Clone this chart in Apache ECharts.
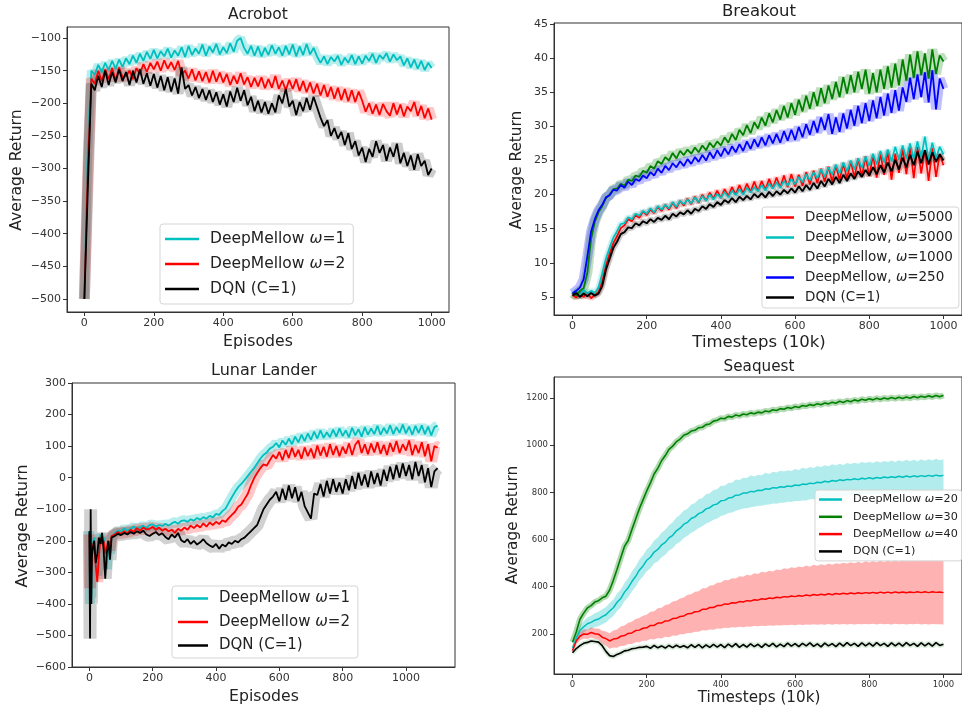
<!DOCTYPE html>
<html><head><meta charset="utf-8">
<script src="https://cdn.jsdelivr.net/npm/echarts@6/dist/echarts.min.js"></script>
<style>html,body{margin:0;padding:0;background:#fff}#c{width:962px;height:707px}</style>
</head><body><div id="c"></div>
<script>
// ---------- Acrobot (episodes 0..1000, every 10) ----------
const acroStep = 10;
const acroW1 = [
-500,-270,-150,-156,-141,-152,-138,-149,-135,-147,
-133,-144,-131,-140,-127,-138,-124,-135,-121,-132,
-118,-131,-120,-128,-116,-130,-119,-127,-114,-129,
-112,-126,-116,-124,-110,-127,-113,-122,-109,-125,
-114,-123,-108,-121,-104,-100,-115,-124,-112,-127,
-113,-128,-115,-126,-111,-124,-114,-127,-112,-125,
-110,-128,-113,-126,-109,-125,-115,-128,-138,-128,
-140,-129,-136,-127,-141,-130,-138,-126,-140,-128,
-139,-127,-135,-124,-138,-126,-132,-123,-136,-125,
-134,-128,-142,-131,-145,-133,-147,-135,-149,-138,
-146];
const acroW2 = [
-500,-300,-162,-170,-150,-166,-148,-163,-146,-165,
-145,-160,-158,-150,-163,-146,-155,-140,-152,-138,
-148,-136,-150,-134,-147,-137,-149,-135,-156,-150,
-162,-148,-165,-151,-166,-152,-168,-150,-167,-153,
-168,-155,-172,-158,-170,-154,-171,-160,-175,-161,
-174,-160,-177,-163,-176,-158,-178,-165,-180,-164,
-178,-163,-181,-166,-183,-168,-185,-170,-188,-172,
-190,-175,-193,-176,-195,-178,-197,-180,-198,-182,
-196,-213,-200,-216,-202,-218,-201,-212,-219,-200,
-217,-202,-220,-205,-212,-198,-219,-204,-223,-208,
-225];
const acroDqn = [
-500,-330,-170,-180,-158,-175,-150,-172,-152,-168,
-148,-166,-152,-172,-150,-168,-148,-170,-154,-173,
-155,-176,-158,-180,-160,-182,-162,-185,-145,-178,
-172,-188,-175,-192,-178,-195,-180,-198,-183,-202,
-186,-205,-182,-198,-176,-196,-180,-203,-190,-212,
-196,-214,-198,-216,-200,-214,-188,-200,-178,-205,
-196,-218,-198,-212,-192,-210,-190,-206,-222,-235,
-226,-250,-238,-254,-244,-264,-246,-270,-258,-280,
-268,-290,-270,-282,-258,-276,-264,-288,-268,-282,
-262,-292,-276,-296,-280,-302,-278,-296,-288,-310,
-300];

// ---------- Breakout (timesteps 0..1000, every 10) ----------
const brkStep = 10;
const brk5000 = [
5.3,4.9,5.5,5.0,5.6,4.8,5.3,5.7,7.2,9.6,
11.3,12.9,13.9,15.1,15.5,16.4,16.1,17.0,16.6,17.5,
17.0,17.8,17.3,18.2,17.6,18.5,17.8,18.8,18.0,19.1,
18.4,19.4,18.6,19.7,18.8,20.0,19.1,20.3,19.4,20.6,
19.5,20.8,19.8,21.1,20.0,21.4,20.2,21.6,20.4,21.9,
20.5,22.0,20.7,22.3,20.9,22.5,21.0,22.8,21.1,23.0,
21.2,22.9,21.3,23.3,21.5,23.5,21.7,23.8,21.9,24.1,
21.9,24.3,22.1,24.6,22.3,24.9,22.5,25.3,22.6,25.6,
22.7,25.8,22.5,26.1,22.9,26.4,22.2,26.0,23.2,26.7,
23.0,26.9,22.4,27.0,23.1,26.5,22.0,26.8,22.6,25.9,
24.3];
const brk3000 = [
5.4,5.9,5.3,6.0,5.5,5.9,5.6,6.4,8.4,10.6,
12.2,13.7,14.6,15.7,15.8,16.7,16.4,17.2,16.9,17.6,
17.2,18.0,17.4,18.3,17.8,18.5,18.0,18.9,18.2,19.1,
18.6,19.3,18.7,19.6,18.9,19.8,19.1,20.0,19.3,20.1,
19.5,20.4,19.6,20.6,19.9,20.8,20.0,21.0,20.3,21.1,
20.5,21.4,20.6,21.6,20.9,21.8,21.0,22.0,21.3,22.3,
21.5,22.6,21.8,23.0,22.1,23.3,22.4,23.7,22.6,24.0,
22.9,24.4,23.1,24.7,23.4,25.0,23.7,25.3,23.9,25.6,
24.2,26.0,24.4,26.4,24.7,26.6,24.9,27.0,25.1,27.2,
25.3,27.5,25.2,27.8,25.5,28.5,25.0,27.6,25.3,27.0,
25.9];
const brk1000 = [
5.6,5.2,5.9,6.3,8.6,13.5,16.0,17.4,18.3,19.5,
20.0,20.8,20.9,21.6,21.3,22.2,22.0,22.8,22.6,23.5,
23.2,24.2,23.8,24.9,24.5,25.5,25.0,26.1,25.3,26.4,
25.8,26.6,26.0,26.9,26.2,27.2,26.5,27.6,26.9,27.8,
27.2,28.4,27.6,28.9,28.0,29.5,28.7,30.2,29.0,30.6,
29.7,31.3,30.1,31.9,30.6,32.4,31.0,33.0,31.3,33.4,
31.7,33.9,32.2,34.5,32.6,35.0,33.0,35.6,33.4,36.0,
34.0,36.5,34.3,37.2,34.8,37.5,35.0,38.0,35.5,38.3,
34.8,37.8,35.0,38.3,35.5,38.8,35.7,39.2,36.0,39.8,
36.7,40.5,37.1,41.0,37.5,40.7,37.0,41.3,37.7,40.4,
39.5];
const brk250 = [
5.5,5.9,6.4,7.6,11.0,14.6,16.4,17.7,18.5,19.6,
19.9,20.7,20.6,21.4,21.0,21.9,21.4,22.3,22.0,22.8,
22.4,23.3,22.8,23.8,23.2,24.2,23.6,24.6,24.0,24.9,
24.2,25.2,24.5,25.5,24.8,25.8,25.0,26.2,25.3,26.5,
25.6,26.8,25.9,27.1,26.2,27.4,26.4,27.8,26.7,28.1,
27.0,28.4,27.2,28.7,27.5,28.9,27.6,29.3,27.9,29.5,
28.0,29.9,28.4,30.3,28.8,30.8,29.1,31.3,29.5,31.8,
28.9,31.3,29.2,31.9,29.7,32.4,30.1,33.0,30.5,33.4,
30.8,33.8,31.2,34.3,31.6,34.8,32.0,35.3,32.3,35.7,
33.6,37.1,34.0,37.6,34.3,37.9,33.5,38.2,32.5,37.0,
35.5];
const brkDqn = [
5.2,5.6,5.0,5.5,5.1,5.6,5.2,5.5,6.6,9.0,
10.6,12.2,13.1,14.2,14.5,15.2,15.1,15.8,15.5,16.1,
15.8,16.4,16.0,16.6,16.3,16.9,16.4,17.2,16.8,17.4,
17.1,17.7,17.2,17.9,17.6,18.3,17.9,18.6,18.2,18.9,
18.5,19.2,18.8,19.5,18.9,19.7,19.2,19.8,19.3,20.1,
19.6,20.2,19.6,20.4,19.8,20.5,20.0,20.7,20.2,20.9,
20.3,21.2,20.5,21.4,20.7,21.7,20.9,22.0,21.2,22.3,
21.5,22.6,21.7,22.9,22.0,23.1,22.3,23.4,22.6,23.6,
22.8,24.0,23.0,24.3,23.2,24.7,23.4,25.1,23.7,25.4,
24.0,25.8,24.3,26.3,24.6,26.5,24.4,26.2,24.8,25.9,
25.0];

// ---------- Lunar Lander ----------
const llEarlyX = [0,2,4,6,8,10,15,20,25,30,35,40,45,50,55,60,65,70,80,90,100];
const llLateStart = 110, llLateEnd = 1100, llLateStep = 10;
const llW1 = [
-170,-400,-250,-380,-220,-210,-190,-260,-310,-220,-180,-200,-190,-230,-290,-210,-240,-190,-175,-168,-172,
-160,-168,-162,-155,-163,-158,-152,-160,-150,-148,
-155,-150,-153,-146,-152,-145,-140,-146,-137,-135,
-140,-132,-136,-128,-133,-125,-130,-121,-126,-115,
-118,-106,-98,-80,-62,-45,-30,-20,-8,5,
18,30,45,60,72,80,92,98,110,96,
118,104,124,106,130,112,136,116,140,120,
146,124,150,126,144,128,152,130,156,132,
150,128,158,134,154,130,160,136,156,138,
164,136,158,140,166,138,160,142,168,140,
162,136,164,142,166,138,162,134,160,165];
const llW2 = [
-180,-350,-230,-300,-250,-220,-200,-280,-330,-250,-190,-210,-200,-240,-220,-200,-230,-185,-180,-172,-178,
-170,-176,-165,-172,-160,-168,-158,-164,-162,-156,
-165,-158,-168,-162,-170,-165,-175,-162,-168,-158,
-165,-152,-160,-150,-158,-145,-155,-142,-150,-140,
-147,-135,-140,-128,-118,-108,-92,-85,-68,-52,
-25,-2,15,30,42,38,55,72,60,82,
55,88,62,95,66,88,60,96,68,92,
62,102,70,98,66,106,72,100,68,98,
76,108,72,104,118,78,106,74,108,80,
112,76,104,72,110,82,116,78,106,86,
118,72,104,78,112,68,106,52,100,95];
const llDqn = [
-170,-510,-100,-400,-250,-230,-200,-270,-240,-190,-210,-175,-230,-320,-240,-200,-260,-190,-185,-178,-182,
-175,-180,-172,-178,-170,-175,-168,-180,-185,-178,
-172,-182,-176,-188,-195,-180,-190,-175,-198,-205,
-195,-210,-200,-212,-205,-195,-208,-215,-220,-210,
-225,-212,-218,-205,-210,-200,-205,-195,-190,-180,
-170,-160,-150,-125,-100,-85,-70,-60,-45,-75,
-35,-70,-25,-65,-30,-75,-45,-90,-110,-130,
-50,-55,-20,-60,-10,-50,-5,-45,-15,-50,
-5,-40,5,-35,15,-25,10,-30,20,-20,
15,-25,25,-10,35,-5,40,0,45,5,
40,-5,50,5,40,-15,30,-30,20,30];

// ---------- Seaquest (timesteps 0..1000, every 10) ----------
const sqStep = 10;
const sqW20 = [
140,182,214,230,243,249,258,263,273,281,
297,311,334,350,377,396,422,443,470,488,
512,525,547,558,577,588,607,618,637,648,
665,673,689,696,710,716,730,735,747,751,
764,766,776,778,788,789,797,797,804,803,
809,808,815,813,820,818,824,822,827,825,
831,829,835,833,839,837,843,841,847,844,
850,847,853,850,855,853,858,854,860,857,
862,858,863,860,865,862,866,863,868,864,
869,865,870,866,871,867,872,868,873,869,
872];
const sqW20Spread = [
12,18,22,25,27,28,30,31,32,33,
34,35,37,38,39,41,42,43,44,45,
46,48,49,51,52,53,54,55,56,57,
58,57,60,59,61,60,62,61,63,62,
64,62,64,63,66,63,65,64,67,64,
66,65,68,65,67,66,68,66,67,66,
68,66,69,67,68,66,69,67,68,67,
69,67,68,66,69,67,68,67,69,67,
68,66,69,67,68,67,69,66,68,67,
69,67,68,66,69,67,68,67,69,67,
68];
const sqW30 = [
165,208,262,288,310,320,335,341,353,360,
386,427,474,523,571,596,642,686,730,768,
806,840,878,903,934,956,982,996,1015,1026,
1042,1048,1060,1063,1074,1076,1087,1090,1102,1106,
1114,1112,1122,1119,1128,1124,1132,1129,1137,1133,
1140,1137,1145,1142,1150,1147,1155,1152,1160,1156,
1164,1160,1168,1165,1172,1168,1176,1171,1179,1175,
1182,1178,1186,1181,1189,1184,1192,1187,1195,1190,
1197,1192,1199,1194,1200,1196,1202,1197,1203,1198,
1204,1199,1206,1201,1207,1203,1209,1204,1211,1205,
1212];
const sqW40 = [
130,170,190,200,198,206,201,199,186,180,
170,178,180,190,193,202,204,214,216,224,
226,236,236,246,246,255,256,265,266,274,
276,285,286,294,295,304,304,312,312,320,
320,327,326,332,331,337,335,341,339,345,
343,349,347,352,350,355,353,358,356,361,
358,363,360,365,362,367,364,368,365,370,
366,371,368,372,369,373,370,374,371,375,
372,376,372,377,373,377,373,378,374,378,
374,378,375,379,375,379,375,379,376,378,
375];
const sqW40Spread = [
12,15,18,20,20,21,22,24,27,30,
33,36,39,41,43,45,47,49,51,53,
55,58,60,63,65,67,70,72,74,76,
78,81,82,85,86,89,90,93,94,97,
98,101,101,104,104,107,107,110,109,112,
111,114,113,116,115,118,117,120,119,122,
121,123,122,125,123,126,125,127,126,128,
127,129,128,130,129,131,130,132,130,133,
131,133,132,134,132,135,133,135,133,136,
134,136,134,136,135,137,135,137,135,137,
135];
const sqDqn = [
120,138,150,160,164,170,168,165,150,126,
108,104,113,119,128,131,137,139,143,144,
147,139,151,141,149,140,151,142,152,143,
150,141,154,143,155,141,153,143,156,144,
155,142,157,145,159,143,155,144,158,146,
156,143,158,147,160,145,157,146,161,148,
159,146,160,149,162,147,158,145,161,149,
159,146,161,148,163,150,160,147,162,149,
161,148,163,150,160,147,162,149,161,148,
163,150,160,147,162,149,161,148,163,151,
156];

// ---------- tick labels ----------
const acroXTicks = [0,200,400,600,800,1000];
const acroYTicks = [-500,-450,-400,-350,-300,-250,-200,-150,-100];
const brkXTicks = [0,200,400,600,800,1000];
const brkYTicks = [5,10,15,20,25,30,35,40,45];
const llXTicks = [0,200,400,600,800,1000];
const llYTicks = [-600,-500,-400,-300,-200,-100,0,100,200,300];
const sqXTicks = [0,200,400,600,800,1000];
const sqYTicks = [200,400,600,800,1000,1200];

// ---------- build ----------
const FONT = 'DejaVu Sans';
function gridX(step, n) { const a = []; for (let i = 0; i < n; i++) a.push(i * step); return a; }
const acroX = gridX(acroStep, acroW1.length);
const brkX = gridX(brkStep, brkDqn.length);
const llX = llEarlyX.slice();
for (let x = llLateStart; x <= llLateEnd; x += llLateStep) llX.push(x);
const sqX = gridX(sqStep, sqDqn.length);

const C = { cyan: '#00bfbf', red: '#ff0000', black: '#000000', green: '#008000', blue: '#0000ff' };
const series = [];
function pairs(xs, ys) { return xs.map((x, i) => [x, ys[i]]); }
function line(g, name, xs, ys, color, width) {
  series.push({ type: 'line', name, xAxisIndex: g, yAxisIndex: g, data: pairs(xs, ys),
    symbol: 'none', showSymbol: false, lineStyle: { color, width, join: 'bevel' }, itemStyle: { color },
    z: 3, silent: true, animation: false });
}
function glow(g, id, xs, ys, color, width, op) {
  series.push({ type: 'line', name: 'band-' + id, xAxisIndex: g, yAxisIndex: g, data: pairs(xs, ys),
    symbol: 'none', showSymbol: false, lineStyle: { color, width, opacity: op, join: 'bevel' },
    z: 1, silent: true, animation: false });
}
function band(g, xs, mean, spread, fill) {
  series.push({ type: 'custom', xAxisIndex: g, yAxisIndex: g, data: [[xs[0], mean[0]]],
    silent: true, z: 1, clip: true, animation: false,
    renderItem: (params, api) => {
      if (params.dataIndex !== 0) return;
      const pts = [];
      for (let i = 0; i < xs.length; i++) pts.push(api.coord([xs[i], mean[i] + spread[i]]));
      for (let i = xs.length - 1; i >= 0; i--) pts.push(api.coord([xs[i], mean[i] - spread[i]]));
      return { type: 'polygon', shape: { points: pts }, style: { fill } };
    } });
}

// Acrobot
glow(0, 'a1', acroX, acroW1, C.cyan, 9, 0.28);
glow(0, 'a2', acroX, acroW2, C.red, 11, 0.22);
glow(0, 'a3', acroX, acroDqn, C.black, 11, 0.2);
line(0, 'DeepMellow ω=1', acroX, acroW1, C.cyan, 1.8);
line(0, 'DeepMellow ω=2', acroX, acroW2, C.red, 1.8);
line(0, 'DQN (C=1)', acroX, acroDqn, C.black, 1.8);
// Breakout
glow(1, 'b1', brkX, brk5000, C.red, 6, 0.22);
glow(1, 'b2', brkX, brk3000, C.cyan, 6, 0.22);
glow(1, 'b3', brkX, brk1000, C.green, 10, 0.25);
glow(1, 'b4', brkX, brk250, C.blue, 10, 0.25);
glow(1, 'b5', brkX, brkDqn, C.black, 6, 0.2);
line(1, 'DeepMellow, ω=5000', brkX, brk5000, C.red, 1.7);
line(1, 'DeepMellow, ω=3000', brkX, brk3000, C.cyan, 1.7);
line(1, 'DeepMellow, ω=1000', brkX, brk1000, C.green, 1.8);
line(1, 'DeepMellow, ω=250', brkX, brk250, C.blue, 1.8);
line(1, 'DQN (C=1) ', brkX, brkDqn, C.black, 1.9);
// Lunar Lander
glow(2, 'l1', llX, llW1, C.cyan, 10, 0.28);
glow(2, 'l2', llX, llW2, C.red, 12, 0.22);
glow(2, 'l3', llX, llDqn, C.black, 13, 0.18);
line(2, 'DeepMellow ω=1 ', llX, llW1, C.cyan, 1.8);
line(2, 'DeepMellow ω=2 ', llX, llW2, C.red, 1.8);
line(2, 'DQN (C=1)  ', llX, llDqn, C.black, 1.8);
// Seaquest
band(3, sqX, sqW20, sqW20Spread, 'rgba(0,191,191,0.3)');
band(3, sqX, sqW40, sqW40Spread, 'rgba(255,0,0,0.3)');
glow(3, 's30', sqX, sqW30, C.green, 6, 0.3);
glow(3, 'sd', sqX, sqDqn, C.green, 5, 0.15);
line(3, 'DeepMellow ω=20', sqX, sqW20, C.cyan, 1.5);
line(3, 'DeepMellow ω=30', sqX, sqW30, C.green, 1.6);
line(3, 'DeepMellow ω=40', sqX, sqW40, C.red, 1.5);
line(3, 'DQN (C=1)   ', sqX, sqDqn, C.black, 1.6);

const fmt = v => (v < 0 ? '\u2212' + Math.abs(v) : String(v));
function axis(g, min, max, ticks, fs) {
  return { type: 'value', gridIndex: g, min, max,
    axisLine: { show: true, onZero: false, lineStyle: { color: '#333', width: 1 } },
    axisTick: { show: true, length: 4, customValues: ticks, lineStyle: { color: '#333' } },
    axisLabel: { customValues: ticks, formatter: fmt, fontFamily: FONT, fontSize: fs, color: '#333', margin: 6 },
    splitLine: { show: false } };
}
const gridBase = { show: true, borderColor: '#333', borderWidth: 1, backgroundColor: 'transparent' };

function legend(names, left, top, fs, lh, gap, iw, pad) {
  return { data: names, left, top, orient: 'vertical', icon: 'rect', itemWidth: iw, itemHeight: 2.5,
    itemGap: gap, selectedMode: false, padding: pad,
    backgroundColor: 'rgba(255,255,255,0.85)', borderColor: '#d5d5d5', borderWidth: 1, borderRadius: 3,
    formatter: n => n.trim().replace('ω', '{i|ω}'),
    textStyle: { fontFamily: FONT, fontSize: fs, lineHeight: lh, color: '#222', padding: [0, 0, 0, 6],
      rich: { i: { fontStyle: 'italic', fontFamily: FONT, fontSize: fs, color: '#222' } } } };
}

function txt(s, x, y, fs, rot) {
  return { type: 'text', x, y, rotation: rot || 0, silent: true,
    style: { text: s, fontFamily: FONT, fontSize: fs, fill: '#222', align: 'center', verticalAlign: 'middle' } };
}

const option = {
  animation: false,
  backgroundColor: '#fff',
  grid: [
    Object.assign({ left: 67, top: 27, width: 382, height: 285 }, gridBase),
    Object.assign({ left: 554, top: 23, width: 410, height: 292 }, gridBase),
    Object.assign({ left: 72, top: 383, width: 383, height: 284 }, gridBase),
    Object.assign({ left: 554, top: 377, width: 410, height: 297 }, gridBase)
  ],
  xAxis: [
    axis(0, -50, 1050, acroXTicks, 11),
    axis(1, -50, 1050, brkXTicks, 11),
    axis(2, -55, 1155, llXTicks, 11),
    axis(3, -50, 1050, sqXTicks, 8.5)
  ],
  yAxis: [
    axis(0, -520, -83, acroYTicks, 11),
    axis(1, 2.36, 45.15, brkYTicks, 11),
    axis(2, -600, 300, llYTicks, 11),
    axis(3, 30, 1289, sqYTicks, 8.5)
  ],
  legend: [
    legend(['DeepMellow ω=1', 'DeepMellow ω=2', 'DQN (C=1)'], 160, 224, 15.5, 18, 7, 34, [6, 8, 6, 5]),
    legend(['DeepMellow, ω=5000', 'DeepMellow, ω=3000', 'DeepMellow, ω=1000', 'DeepMellow, ω=250', 'DQN (C=1) '], 762, 207, 13.5, 15, 5, 28, [3, 6, 3, 4]),
    legend(['DeepMellow ω=1 ', 'DeepMellow ω=2 ', 'DQN (C=1)  '], 172, 586, 15, 17, 6.5, 30, [4, 8, 4, 6]),
    legend(['DeepMellow ω=20', 'DeepMellow ω=30', 'DeepMellow ω=40', 'DQN (C=1)   '], 815, 490, 11.2, 13, 4.3, 23, [3, 4, 3, 4])
  ],
  graphic: [
    txt('Acrobot', 258, 15, 15.5), txt('Breakout', 759, 12, 16.5),
    txt('Lunar Lander', 264, 371, 16), txt('Seaquest', 759, 367, 15.2),
    txt('Episodes', 258, 342, 15.7), txt('Timesteps (10k)', 759, 343, 16.5),
    txt('Episodes', 264, 697, 15.7), txt('Timesteps (10k)', 759, 698, 15.2),
    txt('Average Return', 17, 170, 15.7, Math.PI / 2), txt('Average Return', 517, 170, 15.3, Math.PI / 2),
    txt('Average Return', 23, 526, 15.9, Math.PI / 2), txt('Average Return', 513, 525, 15.3, Math.PI / 2)
  ],
  series
};
const chart = echarts.init(document.getElementById('c'), null, { renderer: 'canvas' });
chart.setOption(option);
</script></body></html>
